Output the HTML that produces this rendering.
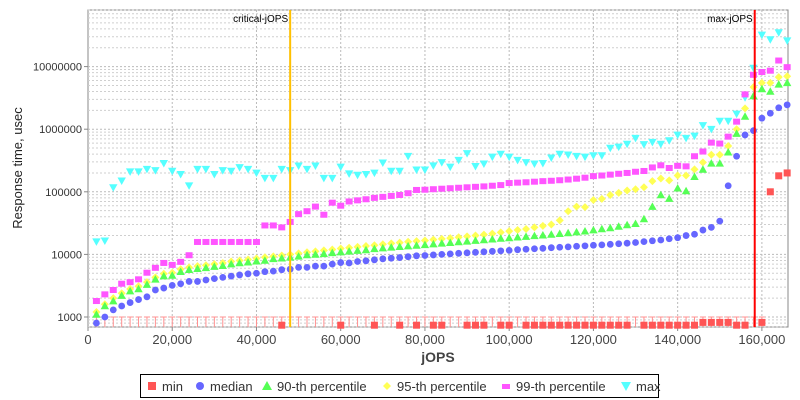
<!DOCTYPE html>
<html><head><meta charset="utf-8"><style>
body{margin:0;background:#fff;font-family:"Liberation Sans",sans-serif}
svg{display:block}
</style></head><body>
<svg id="chart" width="800" height="400" xmlns="http://www.w3.org/2000/svg"></svg>
<script>
const jops = []; for (let k = 1; k <= 83; k++) jops.push(k * 2000);
const medianV = [800,1000,1300,1500,1700,1900,2100,2700,2900,3200,3400,3700,3700,3900,4100,4300,4500,4700,4900,5000,5300,5400,5700,5800,6200,6200,6500,6500,7000,7400,7300,7700,7900,8200,8500,8700,8900,9200,9500,9600,9800,10000,10200,10400,10600,10800,11000,11200,11400,11600,11900,12100,12300,12500,12800,13000,13200,13500,13700,14000,14200,14500,14800,15100,15500,16000,16500,17000,17800,18500,20000,21000,24500,27000,34000,125000,370000,810000,950000,1500000,1800000,2200000,2450000];
const p90V = [1100,1500,1800,2200,2600,2800,3300,4000,4500,4600,5300,5700,5900,6100,6400,6600,7000,7300,7500,7800,8000,8500,8700,9000,9300,9800,10000,10200,10600,10900,11200,11500,11800,12300,12600,13000,13300,13600,13900,14200,14600,15000,15400,15800,16200,16600,17000,17500,18000,18300,18800,19300,19800,20300,20800,21400,22000,22700,23500,24500,25500,26500,28000,29500,31000,36800,58000,89000,78000,114000,103000,174000,228000,285000,285000,430000,850000,1600000,3400000,4400000,4000000,5200000,5500000];
const p95V = [1200,1600,2000,2400,2800,3100,3600,4300,4900,5100,5800,6200,6500,6700,7000,7300,7700,8000,8300,8600,9000,9300,9600,10000,10400,10800,11200,11600,12000,12400,12800,13200,13600,14000,14500,15000,15400,15900,16300,16700,17200,17700,18200,18800,19400,20000,20700,21500,22500,23500,24500,25500,27000,28500,30000,35000,49000,58000,57000,74000,77000,89000,96000,105000,110000,118000,148000,163000,152000,182000,182000,228000,295000,390000,390000,540000,1000000,2150000,4700000,5500000,5500000,6800000,7000000];
const p99V = [1800,2300,2700,3400,3600,4000,5100,6100,7300,6800,7600,9700,15800,15800,15800,15800,15800,15800,15800,15800,29000,29000,27000,33000,44000,49000,58000,43000,67000,60000,70000,73000,76000,80000,83000,86000,89000,95000,107000,108000,110000,112000,114000,116000,118000,120000,122000,125000,128000,138000,140000,142000,145000,148000,150000,153000,157000,162000,168000,178000,182000,188000,194000,200000,209000,215000,245000,265000,240000,260000,255000,370000,440000,610000,590000,760000,1320000,3600000,7400000,8200000,8600000,12500000,9800000];
const maxV = [16000,16500,117000,150000,210000,210000,230000,220000,285000,215000,190000,125000,230000,230000,190000,220000,215000,245000,230000,200000,165000,165000,230000,220000,260000,230000,260000,165000,165000,250000,195000,185000,190000,200000,290000,215000,215000,370000,225000,225000,262000,295000,250000,320000,410000,255000,280000,360000,400000,360000,320000,295000,280000,285000,350000,400000,390000,370000,360000,380000,380000,500000,520000,580000,720000,570000,620000,580000,660000,810000,720000,780000,1150000,1000000,1350000,1350000,1750000,3200000,9500000,32000000,27000000,35000000,26000000];
const minV = [500,500,500,500,500,500,500,500,500,500,500,500,500,500,500,500,500,500,500,500,500,500,740,500,500,500,500,500,500,740,500,500,500,740,500,500,740,500,740,500,740,740,500,500,740,740,740,500,740,740,500,740,740,740,740,740,740,740,740,740,740,740,740,740,500,740,740,740,740,740,740,740,820,820,820,820,740,740,500,820,100000,180000,200000];
const xTicks = [0,20000,40000,60000,80000,100000,120000,140000,160000];
const yTicks = [1000,10000,100000,1000000,10000000];
const criticalJops = 48000, maxJops = 158300;

const L=88,R=788,T=10,B=327;
const X=v=>L+v*(R-L)/166200;
const Y=v=>317-(Math.log10(v)-3)*62.6;
const svg=document.getElementById('chart');
const NS='http://www.w3.org/2000/svg';
function mk(tag,attrs,parent){const e=document.createElementNS(NS,tag);for(const k in attrs)e.setAttribute(k,attrs[k]);(parent||svg).appendChild(e);return e;}

const pa=mk('rect',{x:L,y:T,width:R-L,height:B-T,fill:'#fff',stroke:'#888','stroke-width':1});


const grid=mk('g',{});


for(let d=2;d<=7;d++){for(let m=1;m<=9;m++){const v=m*Math.pow(10,d);const y=Y(v);if(y<T||y>B)continue;
 mk('line',{x1:L,x2:R,y1:y,y2:y,stroke:m==1?'#bbbbbb':'#cfcfcf','stroke-dasharray':'2,2','stroke-width':1},grid);}}
xTicks.forEach(t=>{if(t>0){mk('line',{x1:X(t),x2:X(t),y1:T,y2:B,stroke:'#bbbbbb','stroke-dasharray':'2,2'},grid);}});

const ax=mk('g',{'font-size':'11','fill':'#333'});


yTicks.forEach(t=>{const y=Y(t);mk('line',{x1:L-4,x2:L,y1:y,y2:y,stroke:'#888'},ax);
 const tx=mk('text',{x:L-6,y:y+4,'text-anchor':'end','font-size':'11'},ax);tx.textContent=String(t);
 
 });
xTicks.forEach(t=>{const x=X(t);mk('line',{x1:x,x2:x,y1:B,y2:B+4,stroke:'#888'},ax);
 const tx=mk('text',{x:x,y:B+17,'text-anchor':'middle','font-size':'13','fill':'#444'},ax);tx.textContent=t.toLocaleString('en-US');
 
 });
const xt=mk('text',{x:438,y:362,'text-anchor':'middle','font-size':'14','font-weight':'bold','fill':'#444'});xt.textContent='jOPS';


const yt=mk('text',{x:22,y:168,'text-anchor':'middle','font-size':'13','fill':'#222',transform:'rotate(-90 22 168)'});yt.textContent='Response time, usec';



const eb=mk('g',{stroke:'#ff9090','stroke-width':1});


jops.forEach((j,i)=>{if(minV[i]<1000){const x=X(j);mk('line',{x1:x,x2:x,y1:Y(1000),y2:B},eb);mk('line',{x1:x-3,x2:x+3,y1:Y(1000),y2:Y(1000)},eb);}});

function clipY(y){return y>=T-4&&y<=B+2;}
function series(name,vals,color,shape){
 const g=mk('g',{fill:color});
 
 
 jops.forEach((j,i)=>{const x=X(j),y=Y(vals[i]);if(!clipY(y))return;let e;
  if(shape=='circle')e=mk('circle',{cx:x,cy:y,r:3.4},g);
  else if(shape=='square')e=mk('rect',{x:x-3.5,y:y-3.5,width:7,height:7},g);
  else if(shape=='rect')e=mk('rect',{x:x-3.5,y:y-3,width:7,height:6},g);
  else if(shape=='up')e=mk('polygon',{points:`${x},${y-4.2} ${x+4.2},${y+3.3} ${x-4.2},${y+3.3}`},g);
  else if(shape=='down')e=mk('polygon',{points:`${x-4.2},${y-3.3} ${x+4.2},${y-3.3} ${x},${y+4.2}`},g);
  else if(shape=='diamond')e=mk('polygon',{points:`${x},${y-4} ${x+4},${y} ${x},${y+4} ${x-4},${y}`},g);
  
  });
}
series('max',maxV,'#55ffff','down');
series('p99',p99V,'#ff55ff','rect');
series('p95',p95V,'#ffff55','diamond');
series('p90',p90V,'#55ff55','up');
series('median',medianV,'#6666ff','circle');
series('min',minV,'#ff5555','square');

const cl=mk('line',{x1:X(criticalJops),x2:X(criticalJops),y1:T,y2:B,stroke:'#ffc000','stroke-width':2});


const ct=mk('text',{x:X(criticalJops)-2,y:22,'text-anchor':'end','font-size':'10','fill':'#000'});ct.textContent='critical-jOPS';


const ml=mk('line',{x1:X(maxJops),x2:X(maxJops),y1:T,y2:B,stroke:'#ff0000','stroke-width':2});


const mt=mk('text',{x:X(maxJops)-2,y:22,'text-anchor':'end','font-size':'10','fill':'#000'});mt.textContent='max-jOPS';



const lg=mk('g',{});


mk('rect',{x:140.5,y:374.5,width:518,height:23,fill:'#fff',stroke:'#000'},lg);
const items=[['min','#ff5555','square',148],['median','#6666ff','circle',196],['90-th percentile','#55ff55','up',263],['95-th percentile','#ffff55','diamond',383],['99-th percentile','#ff55ff','rect',502],['max','#55ffff','down',622]];
items.forEach(([t,c,s,x])=>{const y=386;const g=mk('g',{fill:c},lg);
 
 
 if(s=='circle')mk('circle',{cx:x+4,cy:y,r:4},g);
 else if(s=='square')mk('rect',{x:x,y:y-4,width:8,height:8},g);
 else if(s=='rect')mk('rect',{x:x,y:y-2,width:8,height:5},g);
 else if(s=='up')mk('polygon',{points:`${x+4},${y-5} ${x+9},${y+4} ${x-1},${y+4}`},g);
 else if(s=='down')mk('polygon',{points:`${x-1},${y-4} ${x+9},${y-4} ${x+4},${y+5}`},g);
 else mk('polygon',{points:`${x+4},${y-4} ${x+8},${y} ${x+4},${y+4} ${x},${y}`},g);
 const tx=mk('text',{x:x+14,y:y+5,'font-size':'13','fill':'#333'},g);tx.textContent=t;});
</script>
</body></html>
